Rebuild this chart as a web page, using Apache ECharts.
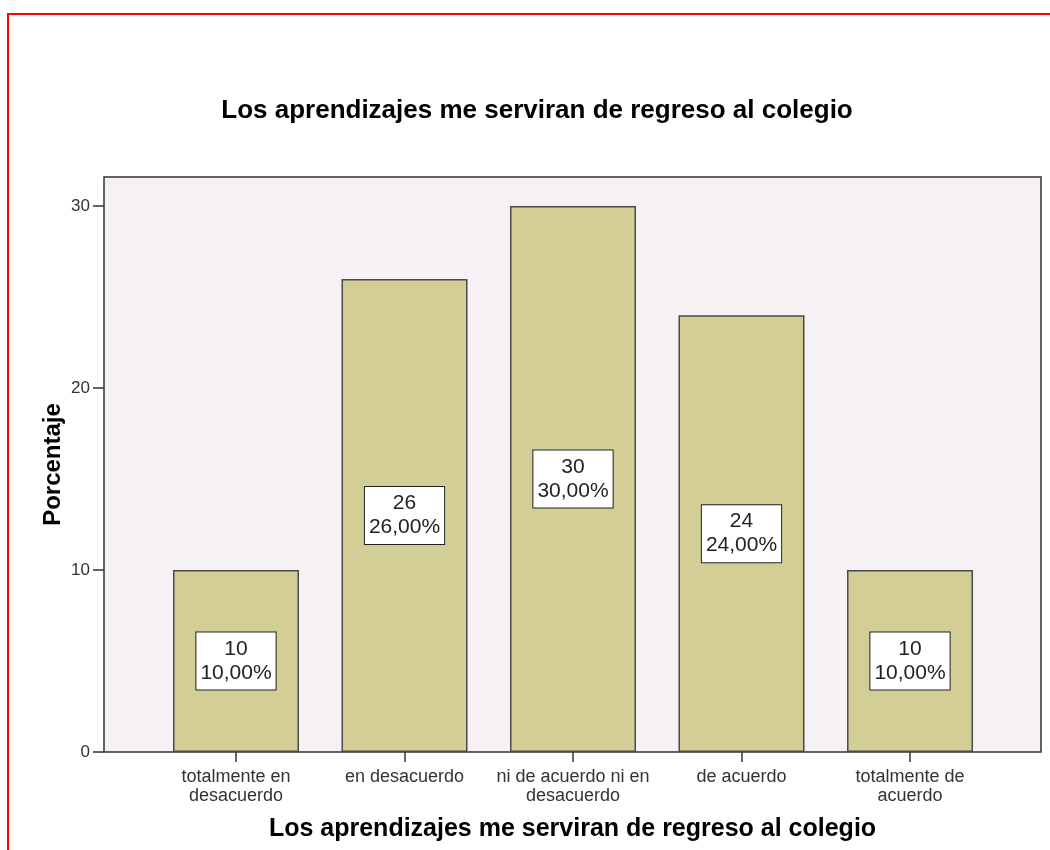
<!DOCTYPE html>
<html>
<head>
<meta charset="utf-8">
<script src="https://cdn.jsdelivr.net/npm/echarts@6/dist/echarts.min.js"></script>
<style>
  html, body { margin: 0; padding: 0; background: #fff; }
  #chart { width: 1050px; height: 850px; }
</style>
</head>
<body>
<div id="chart"></div>
<script>
// datos del grafico
var titulo = 'Los aprendizajes me serviran de regreso al colegio';
var categorias = ['totalmente en\ndesacuerdo', 'en desacuerdo', 'ni de acuerdo ni en\ndesacuerdo', 'de acuerdo', 'totalmente de\nacuerdo'];
var frecuencias = [10, 26, 30, 24, 10];
var porcentajes = ['10,00%', '26,00%', '30,00%', '24,00%', '10,00%'];
var yTicks = [0, 10, 20, 30];

var posiciones = [];
for (var i = 0; i < categorias.length; i++) {
    posiciones.push(i);
}

var barData = [];
for (var i = 0; i < frecuencias.length; i++) {
    barData.push([i, frecuencias[i]]);
}

var chart = echarts.init(document.getElementById('chart'));

var option = {
    animation: false,
    textStyle: { fontFamily: 'Liberation Sans, Arial, sans-serif' },
    title: {
        text: titulo,
        left: 532,
        top: 93,
        textAlign: 'center',
        textStyle: { fontSize: 26, fontWeight: 'bold', color: '#000' }
    },
    graphic: [
        {
            // marco rojo
            type: 'rect',
            shape: { x: 8, y: 14, width: 1100, height: 900 },
            style: { fill: 'none', stroke: '#ff0000', lineWidth: 2 },
            z: 100
        }
    ],
    grid: {
        left: 104,
        right: 9,
        top: 177,
        bottom: 98,
        show: true,
        backgroundColor: '#f5f1f5',
        borderColor: '#333',
        borderWidth: 1.5
    },
    xAxis: {
        type: 'value',
        min: -0.7834,
        max: 4.7774,
        splitLine: { show: false },
        axisLine: { show: false, onZero: false },
        axisTick: {
            show: true,
            customValues: posiciones,
            length: 10,
            lineStyle: { color: '#333', width: 1.5 }
        },
        axisLabel: {
            customValues: posiciones,
            formatter: function (v) { return categorias[Math.round(v)]; },
            fontSize: 18,
            lineHeight: 19,
            color: '#333',
            margin: 16
        },
        name: titulo,
        nameLocation: 'middle',
        nameGap: 65,
        nameTextStyle: { fontSize: 25, fontWeight: 'bold', color: '#000' }
    },
    yAxis: {
        type: 'value',
        min: 0,
        max: 31.6,
        splitLine: { show: false },
        axisLine: { show: false, onZero: false },
        axisTick: {
            show: true,
            customValues: yTicks,
            length: 11,
            lineStyle: { color: '#333', width: 1.5 }
        },
        axisLabel: {
            customValues: yTicks,
            fontSize: 17,
            color: '#333',
            margin: 14
        },
        name: 'Porcentaje',
        nameLocation: 'middle',
        nameGap: 51,
        nameMoveOverlap: false,
        nameTextStyle: { fontSize: 24, fontWeight: 'bold', color: '#000', verticalAlign: 'middle' }
    },
    series: [
        {
            type: 'bar',
            data: barData,
            barWidth: 126,
            itemStyle: {
                color: '#d3ce96',
                borderColor: '#4a4a4a',
                borderWidth: 1.5
            },
            label: {
                show: true,
                position: 'inside',
                formatter: function (p) {
                    return frecuencias[p.dataIndex] + '\n' + porcentajes[p.dataIndex];
                },
                fontSize: 21,
                lineHeight: 24,
                color: '#222',
                backgroundColor: '#fff',
                borderColor: '#222',
                borderWidth: 1,
                padding: [5, 4, 4, 4],
                align: 'center'
            }
        }
    ]
};

chart.setOption(option);
</script>
</body>
</html>
